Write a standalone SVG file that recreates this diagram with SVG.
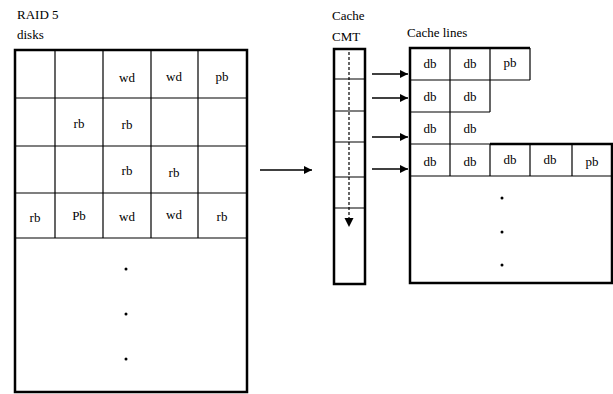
<svg xmlns="http://www.w3.org/2000/svg" width="613" height="394" viewBox="0 0 613 394">
<style>
text{font-family:"Liberation Serif","Times New Roman",serif;font-size:13px;fill:#000}
.c{text-anchor:middle}
.thick{fill:none;stroke:#000;stroke-width:2.5}
.thin{fill:none;stroke:#000;stroke-width:1.2}
.conn{stroke:#000;stroke-width:1.3;fill:none}
.dot{fill:#000}
</style>
<defs>
<marker id="ah" viewBox="0 0 10 10" refX="10" refY="5" markerWidth="9" markerHeight="8" markerUnits="userSpaceOnUse" orient="auto">
<path d="M0,0L10,5L0,10z" fill="#000"/>
</marker>
</defs>
<rect width="613" height="394" fill="#fff"/>
<text x="17" y="19">RAID 5</text>
<text x="17" y="39">disks</text>
<g id="raid-disks">
<path class="thin" d="M15,98H247M15,146H247M15,193H247M15,238H247M55,50V238M103,50V238M151,50V238M198,50V238"/>
<rect class="thick" x="15" y="50" width="232" height="342"/>
<text class="c" x="127" y="82">wd</text>
<text class="c" x="174" y="81">wd</text>
<text class="c" x="222" y="81">pb</text>
<text class="c" x="79" y="128">rb</text>
<text class="c" x="127" y="129">rb</text>
<text class="c" x="127" y="175">rb</text>
<text class="c" x="174" y="177">rb</text>
<text class="c" x="35" y="222">rb</text>
<text class="c" x="79" y="220">Pb</text>
<text class="c" x="127" y="221">wd</text>
<text class="c" x="174" y="219">wd</text>
<text class="c" x="222" y="221">rb</text>
<circle class="dot" cx="126" cy="269" r="1.5"/>
<circle class="dot" cx="126" cy="314" r="1.5"/>
<circle class="dot" cx="126" cy="359" r="1.5"/>
</g>
<text x="332" y="20">Cache</text>
<text x="332" y="41">CMT</text>
<g id="cmt">
<path class="thin" d="M334,79H365M334,111H365M334,142H365M334,177H365M334,208H365"/>
<rect class="thick" x="334" y="49" width="31" height="235"/>
<path d="M349,52V220" stroke="#000" stroke-width="1.2" stroke-dasharray="3,2" fill="none"/>
<path d="M344.5,218L353.5,218L349,227z" fill="#000"/>
</g>
<text x="407" y="37">Cache lines</text>
<g id="cache-lines">
<path class="thin" d="M410,80H530M410,112H490M410,144H490M410,176H612M450,48V176M490,48V112M490,144V176M530,144V176M572,144V176M530,48V80"/>
<path class="thick" d="M530,48H410V283H612V144H490"/>
<text class="c" x="430" y="68">db</text>
<text class="c" x="470" y="68">db</text>
<text class="c" x="510" y="67">pb</text>
<text class="c" x="430" y="101">db</text>
<text class="c" x="470" y="101">db</text>
<text class="c" x="430" y="133">db</text>
<text class="c" x="470" y="133">db</text>
<text class="c" x="430" y="166">db</text>
<text class="c" x="470" y="166">db</text>
<text class="c" x="510" y="164">db</text>
<text class="c" x="550" y="164">db</text>
<text class="c" x="592" y="166">pb</text>
<circle class="dot" cx="502" cy="198" r="1.5"/>
<circle class="dot" cx="502" cy="232" r="1.5"/>
<circle class="dot" cx="502" cy="265" r="1.5"/>
</g>
<g id="connectors">
<path class="conn" d="M260,170H312" marker-end="url(#ah)"/>
<path class="conn" d="M372,74H408" marker-end="url(#ah)"/>
<path class="conn" d="M372,98H408" marker-end="url(#ah)"/>
<path class="conn" d="M372,137H408" marker-end="url(#ah)"/>
<path class="conn" d="M372,169H408" marker-end="url(#ah)"/>
</g>
</svg>
